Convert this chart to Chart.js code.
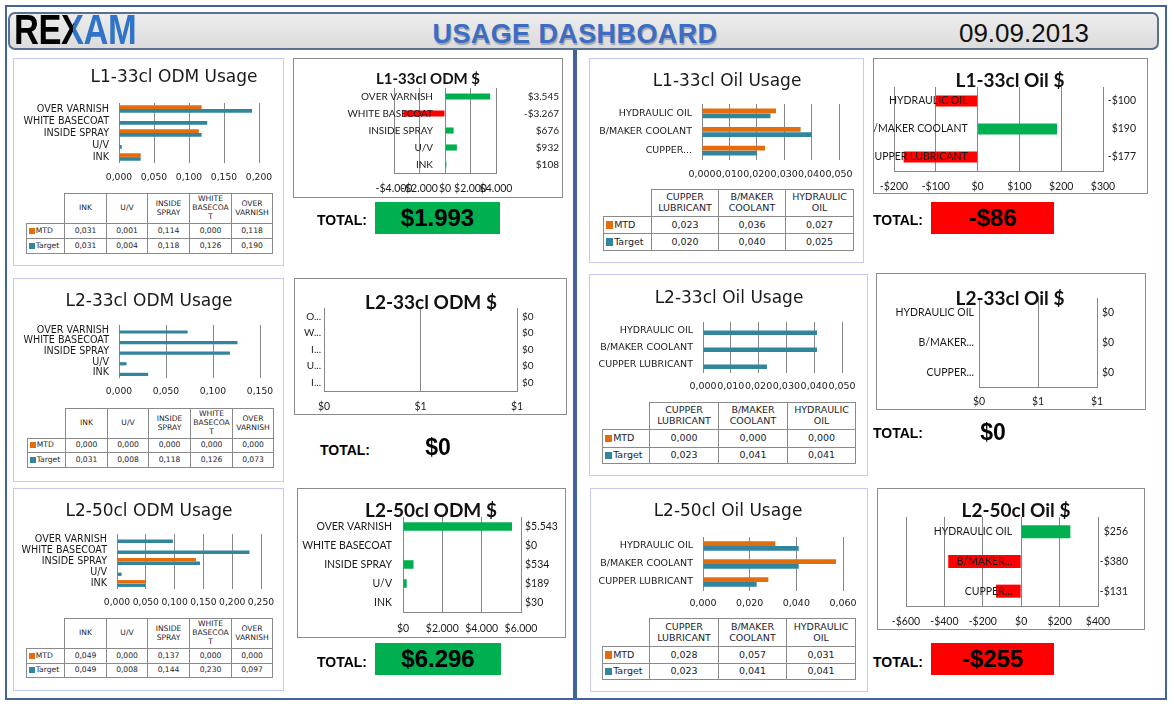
<!DOCTYPE html>
<html>
<head>
<meta charset="utf-8">
<title>Usage Dashboard</title>
<script src="https://cdn.jsdelivr.net/npm/chart.js@4.4.1/dist/chart.umd.min.js"></script>
<style>
  body { margin: 0; background: #fff; }
  #page { position: relative; width: 1174px; height: 708px; overflow: hidden; background: #fff; }
  .abs { position: absolute; }
  #frame { left: 5px; top: 5px; width: 1162px; height: 695px; border: 2px solid #41659a; box-sizing: border-box; }
  #divider { left: 573px; top: 50px; width: 4px; height: 650px; background: #41659a; }
  #header { left: 8px; top: 12px; width: 1151px; height: 38px; box-sizing: border-box; border: 2px solid #5b7090;
            border-radius: 7px; background: linear-gradient(#ededed, #dcdcdc); }
  #logo { left: 14px; top: 9px; font: bold 42px/42px "Liberation Sans", Arial, sans-serif; transform: scaleX(0.82);
          transform-origin: left; white-space: nowrap; letter-spacing: -0.5px; }
  #logo .x { background: linear-gradient(100deg, #000 52%, #2f74c8 52%); -webkit-background-clip: text; background-clip: text; color: transparent; }
  #hdtitle { left: 375px; top: 19px; width: 400px; text-align: center; font: bold 27px/30px "Liberation Sans", Arial, sans-serif;
             color: #3b6dc4; letter-spacing: 0.4px; text-shadow: 1px 2px 1px rgba(40, 50, 80, 0.35); }
  #hddate { left: 924px; top: 18px; width: 200px; text-align: center; font: 26px/30px "Liberation Sans", Arial, sans-serif; color: #111; }
  .upanel { border: 1px solid #c8c8f4; box-sizing: border-box; }
  .dpanel { border: 1px solid #8c8c8c; box-sizing: border-box; }
  .utitle { text-align: center; font: 17px/24px "DejaVu Sans", Verdana, sans-serif; color: #1a1a1a; white-space: nowrap; }
  .dtitle { text-align: center; font-family: Lato, "Open Sans", sans-serif; font-weight: bold; line-height: 24px; color: #111; white-space: nowrap; }
  .dtab { position: absolute; border-collapse: collapse; table-layout: fixed; font-family: "DejaVu Sans", Verdana, sans-serif; color: #1c1c2c; }
  .dtab td, .dtab th { border: 1px solid #8a8a8a; padding: 0 1px; text-align: center; font-weight: normal;
                       overflow-wrap: anywhere; line-height: 1.15; vertical-align: middle; }
  .dtab th.corner { border-top: none; border-left: none; }
  .dtab td.ser { text-align: left; white-space: nowrap; padding-left: 2px; }
  .dtab i { display: inline-block; width: 0.75em; height: 0.75em; margin-right: 1px; vertical-align: -1px; }
  .tlabel { font: bold 14px/20px "Liberation Sans", Arial, sans-serif; color: #000; white-space: nowrap; }
  .tbox { text-align: center; font: bold 24px "Liberation Sans", Arial, sans-serif; color: #000; }
  .tval { text-align: center; font: bold 23px/30px "Liberation Sans", Arial, sans-serif; color: #000; }
</style>
</head>
<body>
<div id="page">
  <div id="frame" class="abs"></div>
  <div id="divider" class="abs"></div>
  <div id="header" class="abs"></div>
  <div id="logo" class="abs"><span style="color:#000">RE</span><span class="x">X</span><span style="color:#2f74c8">AM</span></div>
  <div id="hdtitle" class="abs">USAGE DASHBOARD</div>
  <div id="hddate" class="abs">09.09.2013</div>
</div>
<script>
// categories in table order (charts draw them reversed, top to bottom)
const odmCats = ['INK', 'U/V', 'INSIDE SPRAY', 'WHITE BASECOAT', 'OVER VARNISH'];
const oilCats = ['CUPPER LUBRICANT', 'B/MAKER COOLANT', 'HYDRAULIC OIL'];
const seriesNames = ['MTD', 'Target'];

// usage per category
const l1OdmMtd = [0.031, 0.001, 0.114, 0.000, 0.118];
const l1OdmTarget = [0.031, 0.004, 0.118, 0.126, 0.190];
const l2OdmMtd = [0.000, 0.000, 0.000, 0.000, 0.000];
const l2OdmTarget = [0.031, 0.008, 0.118, 0.126, 0.073];
const l250OdmMtd = [0.049, 0.000, 0.137, 0.000, 0.000];
const l250OdmTarget = [0.049, 0.008, 0.144, 0.230, 0.097];

const l1OilMtd = [0.023, 0.036, 0.027];
const l1OilTarget = [0.020, 0.040, 0.025];
const l2OilMtd = [0.000, 0.000, 0.000];
const l2OilTarget = [0.023, 0.041, 0.041];
const l250OilMtd = [0.028, 0.057, 0.031];
const l250OilTarget = [0.023, 0.041, 0.041];

// $ difference per category
const l1OdmUsd = [108, 932, 676, -3267, 3545];
const l2OdmUsd = [0, 0, 0, 0, 0];
const l250OdmUsd = [30, 189, 534, 0, 5543];
const l1OilUsd = [-177, 190, -100];
const l2OilUsd = [0, 0, 0];
const l250OilUsd = [-131, -380, 256];

// totals as shown under each $ chart
const odmTotals = [1993, 0, 6296];
const oilTotals = [-86, 0, -255];

const ORANGE = '#e46c0a', TEAL = '#31859c', GREEN = '#00b050', RED = '#ff0000', GRID = '#878787';
const UF = '"DejaVu Sans", Verdana, sans-serif';
const DF = 'Lato, "Open Sans", sans-serif';
const page = document.getElementById('page');

const rev = a => a.slice().reverse();
function dec3(v) { return v.toFixed(3).replace('.', ','); }
function money(v) {
  const s = Math.round(Math.abs(v)).toString().replace(/\B(?=(\d{3})+(?!\d))/g, '.');
  return (v < 0 ? '-' : '') + '$' + s;
}
function shortLabel(l, n) {
  if (!n || l.length <= n) return l;
  return l.split(' ')[0].slice(0, n) + '...';
}
function place(e, x, y, w, h) {
  e.style.position = 'absolute';
  e.style.left = x + 'px';
  e.style.top = y + 'px';
  if (w != null) e.style.width = w + 'px';
  if (h != null) e.style.height = h + 'px';
  page.appendChild(e);
  return e;
}
function div(cls, x, y, w, h) {
  const d = document.createElement('div');
  d.className = cls;
  return place(d, x, y, w, h);
}
function canvas(x, y, w, h) {
  const c = document.createElement('canvas');
  c.width = w; c.height = h;
  return place(c, x, y);
}
// keep the plot exactly where the layout puts it
function zeroPad(a) { a.paddingLeft = a.paddingRight = a.paddingTop = a.paddingBottom = 0; }

// category names at the zero line and value labels at the right, like the Excel originals
const usdLabels = {
  id: 'usdLabels',
  afterDatasetsDraw(chart, args, o) {
    const ctx = chart.ctx, xs = chart.scales.x, ys = chart.scales.y;
    const zero = xs.getPixelForValue(0);
    const vals = chart.data.datasets[0].data;
    ctx.save();
    ctx.font = o.font;
    ctx.fillStyle = '#1a1a1a';
    ctx.textBaseline = 'middle';
    chart.data.labels.forEach((lab, i) => {
      const py = ys.getPixelForValue(i);
      ctx.textAlign = 'right';
      ctx.fillText(shortLabel(lab, o.maxLen), zero - o.gap, py);
      ctx.textAlign = o.valueAlign;
      ctx.fillText(money(vals[i]), chart.chartArea.right + o.valueOffset, py);
    });
    ctx.restore();
  }
};

function dataTable(s) {
  const tb = document.createElement('table');
  tb.className = 'dtab';
  tb.style.fontSize = s.tfont + 'px';
  tb.style.width = s.colW.reduce((a, b) => a + b, 0) + 'px';
  const cg = document.createElement('colgroup');
  s.colW.forEach(w => { const c = document.createElement('col'); c.style.width = w + 'px'; cg.appendChild(c); });
  tb.appendChild(cg);
  const head = tb.insertRow();
  head.style.height = s.rowH[0] + 'px';
  const corner = document.createElement('th');
  corner.className = 'corner';
  head.appendChild(corner);
  s.cats.forEach(c => { const th = document.createElement('th'); th.textContent = c; head.appendChild(th); });
  [[seriesNames[0], s.mtd, ORANGE], [seriesNames[1], s.target, TEAL]].forEach(([name, vals, col], r) => {
    const tr = tb.insertRow();
    tr.style.height = s.rowH[r + 1] + 'px';
    const c0 = tr.insertCell();
    c0.className = 'ser';
    c0.innerHTML = '<i style="background:' + col + '"></i>' + name;
    vals.forEach(v => { tr.insertCell().textContent = dec3(v); });
  });
  place(tb, s.table[0], s.table[1]);
}

function usageChart(s) {
  const [px, py, pw, ph] = s.panel;
  div('upanel', px, py, pw, ph);
  const bx = px + 1, by = s.plot[1] - 20, bw = pw - 2, bh = s.tickY + 9 - by;
  const cv = canvas(bx, by, bw, bh);
  new Chart(cv, {
    type: 'bar',
    data: {
      labels: rev(s.cats).map(c => shortLabel(c, s.maxLen)),
      datasets: [
        { label: seriesNames[0], data: rev(s.mtd), backgroundColor: ORANGE, categoryPercentage: s.catPct, barPercentage: 0.95 },
        { label: seriesNames[1], data: rev(s.target), backgroundColor: TEAL, categoryPercentage: s.catPct, barPercentage: 0.95 }
      ]
    },
    options: {
      indexAxis: 'y', responsive: false, animation: false, devicePixelRatio: 1,
      layout: { padding: { left: 0, right: bx + bw - s.plot[2], top: s.plot[1] - by, bottom: 0 } },
      plugins: { legend: { display: false }, tooltip: { enabled: false } },
      scales: {
        x: {
          min: 0, max: s.max,
          ticks: { stepSize: s.step, autoSkip: false, maxRotation: 0, padding: s.tickY - s.plot[3] - 6,
                   font: { family: UF, size: s.tickSize }, color: '#1a1a1a', callback: v => dec3(v) },
          grid: { color: GRID, drawTicks: false },
          border: { display: false },
          afterFit: a => { a.height = by + bh - s.plot[3]; zeroPad(a); }
        },
        y: {
          ticks: { autoSkip: false, padding: s.labelGap, font: { family: UF, size: s.labelSize }, color: '#1a1a1a' },
          grid: { display: false, drawTicks: false },
          border: { display: false },
          afterFit: a => { a.width = s.plot[0] - bx; zeroPad(a); }
        }
      }
    }
  });
  const t = div('utitle', s.tx - 150, s.ty - 12, 300, 24);
  t.textContent = s.title;
  dataTable(s);
}

function usdChart(s) {
  const [px, py, pw, ph] = s.panel;
  div('dpanel', px, py, pw, ph);
  const bx = px + 1, by = py + 1, bw = pw - 2, bh = ph - 2;
  const cv = canvas(bx, by, bw, bh);
  const vals = rev(s.vals);
  new Chart(cv, {
    type: 'bar',
    data: {
      labels: rev(s.cats),
      datasets: [{ data: vals, backgroundColor: vals.map(v => v < 0 ? RED : GREEN), categoryPercentage: 1, barPercentage: s.barPct }]
    },
    options: {
      indexAxis: 'y', responsive: false, animation: false, devicePixelRatio: 1,
      layout: { padding: { left: s.plot[0] - bx, right: bx + bw - s.plot[2], top: s.plot[1] - by, bottom: 0 } },
      plugins: {
        legend: { display: false }, tooltip: { enabled: false },
        usdLabels: { font: s.lsize + 'px ' + DF, maxLen: s.maxLen, gap: s.gap, valueAlign: s.vAlign, valueOffset: s.vOff }
      },
      scales: {
        x: {
          min: s.min, max: s.max,
          ticks: { stepSize: s.step, autoSkip: false, maxRotation: 0, padding: s.tickY - s.plot[3] - 6,
                   font: { family: DF, size: 10.5 }, color: '#1a1a1a', callback: v => money(v) },
          grid: { color: GRID, drawTicks: false },
          border: { display: true, color: GRID },
          afterFit: a => { a.height = by + bh - s.plot[3]; zeroPad(a); }
        },
        y: { display: false, afterFit: zeroPad }
      }
    },
    plugins: [usdLabels]
  });
  const t = div('dtitle', s.tx - 150, s.ty - 12, 300, 24);
  t.style.fontSize = s.tsize + 'px';
  t.textContent = s.title;
}

function totalBlock(s) {
  const l = div('tlabel', s.lx, s.ly - 10, 70, 20);
  l.textContent = 'TOTAL:';
  if (s.box) {
    const b = div('tbox', s.box[0], s.box[1], s.box[2], s.box[3]);
    b.style.background = s.v < 0 ? RED : GREEN;
    b.style.lineHeight = s.box[3] + 'px';
    b.textContent = money(s.v);
  } else {
    const b = div('tval', s.c[0] - 50, s.c[1] - 15, 100, 30);
    b.textContent = money(s.v);
  }
}

const odmLook = { catPct: 0.64, tickSize: 9.2, labelSize: 9.6, labelGap: 10, tfont: 7.6, colW: [38, 42, 41, 42, 42, 41] };
const oilLook = { catPct: 0.54, tickSize: 9.5, labelSize: 9.5, labelGap: 10, tfont: 9.5 };

const usageSpecs = [
  Object.assign({}, odmLook, { panel: [13, 58, 271, 208], title: 'L1-33cl ODM Usage', tx: 174, ty: 76, plot: [119, 103, 259, 163],
    cats: odmCats, mtd: l1OdmMtd, target: l1OdmTarget, max: 0.2, step: 0.05, tickY: 178, table: [26, 193], rowH: [30, 15, 15] }),
  Object.assign({}, odmLook, { panel: [13, 278, 271, 204], title: 'L2-33cl ODM Usage', tx: 149, ty: 300, plot: [119, 325, 260, 378],
    cats: odmCats, mtd: l2OdmMtd, target: l2OdmTarget, max: 0.15, step: 0.05, tickY: 392, table: [27, 408], rowH: [30, 14, 15] }),
  Object.assign({}, odmLook, { panel: [13, 488, 271, 203], title: 'L2-50cl ODM Usage', tx: 149, ty: 510, plot: [117, 534, 261, 589],
    cats: odmCats, mtd: l250OdmMtd, target: l250OdmTarget, max: 0.25, step: 0.05, tickY: 603, table: [26, 618], rowH: [30, 15, 14] }),
  Object.assign({}, oilLook, { panel: [589, 58, 275, 205], title: 'L1-33cl Oil Usage', tx: 727, ty: 80, plot: [702, 104, 839, 160],
    cats: oilCats, mtd: l1OilMtd, target: l1OilTarget, max: 0.05, step: 0.01, tickY: 175, maxLen: 15,
    table: [603, 189], colW: [48, 67, 67, 68], rowH: [27, 17, 17] }),
  Object.assign({}, oilLook, { panel: [589, 274, 279, 202], title: 'L2-33cl Oil Usage', tx: 729, ty: 297, plot: [703, 322, 842, 373],
    cats: oilCats, mtd: l2OilMtd, target: l2OilTarget, max: 0.05, step: 0.01, tickY: 387,
    table: [602, 402], colW: [47, 69, 69, 68], rowH: [27, 18, 16] }),
  Object.assign({}, oilLook, { panel: [590, 488, 278, 204], title: 'L2-50cl Oil Usage', tx: 728, ty: 510, plot: [703, 537, 843, 591],
    cats: oilCats, mtd: l250OilMtd, target: l250OilTarget, max: 0.06, step: 0.02, tickY: 604,
    table: [602, 618], colW: [47, 69, 68, 69], rowH: [28, 17, 16] })
];

const usdSpecs = [
  { panel: [293, 58, 270, 140], title: 'L1-33cl ODM $', tx: 428, ty: 78, tsize: 15, plot: [394, 88, 496, 173], cats: odmCats, vals: l1OdmUsd,
    min: -4000, max: 4000, step: 2000, tickY: 188, barPct: 0.36, lsize: 10, gap: 12, vAlign: 'right', vOff: 63 },
  { panel: [294, 278, 273, 137], title: 'L2-33cl ODM $', tx: 431, ty: 302, tsize: 19, plot: [324, 308, 517, 391], cats: odmCats, vals: l2OdmUsd,
    min: 0, max: 1, step: 0.5, tickY: 406, barPct: 0.4, lsize: 10, gap: 3, maxLen: 1, vAlign: 'left', vOff: 5 },
  { panel: [297, 488, 269, 150], title: 'L2-50cl ODM $', tx: 431, ty: 510, tsize: 19, plot: [403, 517, 521, 612], cats: odmCats, vals: l250OdmUsd,
    min: 0, max: 6000, step: 2000, tickY: 628, barPct: 0.45, lsize: 10.5, gap: 11, vAlign: 'left', vOff: 4 },
  { panel: [873, 58, 275, 136], title: 'L1-33cl Oil $', tx: 1010, ty: 80, tsize: 19, plot: [894, 87, 1103, 171], cats: oilCats, vals: l1OilUsd,
    min: -200, max: 300, step: 100, tickY: 186, barPct: 0.4, lsize: 10.5, gap: 10, vAlign: 'right', vOff: 33 },
  { panel: [876, 273, 270, 137], title: 'L2-33cl Oil $', tx: 1010, ty: 298, tsize: 19, plot: [979, 298, 1097, 387], cats: oilCats, vals: l2OilUsd,
    min: 0, max: 1, step: 0.5, tickY: 401, barPct: 0.4, lsize: 10.5, gap: 5, maxLen: 13, vAlign: 'left', vOff: 5 },
  { panel: [877, 488, 268, 142], title: 'L2-50cl Oil $', tx: 1016, ty: 510, tsize: 19, plot: [906, 517, 1098, 606], cats: oilCats, vals: l250OilUsd,
    min: -600, max: 400, step: 200, tickY: 621, barPct: 0.44, lsize: 10.5, gap: 9, maxLen: 13, vAlign: 'right', vOff: 30 }
];

const totalSpecs = [
  { lx: 317, ly: 220, box: [375, 202, 125, 32], v: odmTotals[0] },
  { lx: 320, ly: 450, c: [438, 447], v: odmTotals[1] },
  { lx: 317, ly: 662, box: [375, 643, 126, 32], v: odmTotals[2] },
  { lx: 873, ly: 220, box: [931, 202, 123, 32], v: oilTotals[0] },
  { lx: 873, ly: 433, c: [993, 432], v: oilTotals[1] },
  { lx: 873, ly: 662, box: [931, 643, 123, 32], v: oilTotals[2] }
];

usageSpecs.forEach(usageChart);
usdSpecs.forEach(usdChart);
totalSpecs.forEach(totalBlock);
</script>
</body>
</html>
